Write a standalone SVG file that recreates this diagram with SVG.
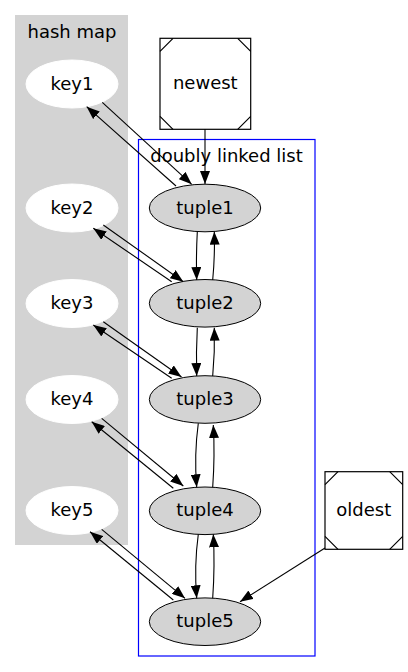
<svg xmlns="http://www.w3.org/2000/svg" width="408" height="672" viewBox="0 0 408 672">
<defs>
<marker id="ah" markerUnits="userSpaceOnUse" markerWidth="13" markerHeight="10" refX="13" refY="5" orient="auto">
<path d="M0,0 L13,5 L0,10 z" fill="#000"/>
</marker>
<style>
text{font-family:"DejaVu Sans",sans-serif;font-size:18px;text-anchor:middle;fill:#000}
.key{fill:#fff;stroke:#fff}
.tup{fill:#d3d3d3;stroke:#000;stroke-width:1}
.box{fill:#fff;stroke:#000;stroke-width:1.2}
.diag{stroke:#000;stroke-width:1.2;fill:none}
.e{fill:none;stroke:#000;stroke-width:1.1;marker-end:url(#ah)}
</style>
</defs>
<rect width="408" height="672" fill="#fff"/>
<g id="cluster_hashmap">
<rect x="15" y="15" width="113" height="530" fill="#d3d3d3"/>
<text x="72" y="38">hash map</text>
</g>
<g id="cluster_list">
<rect x="138.5" y="139.5" width="176.5" height="516.5" fill="none" stroke="#0000ff" stroke-width="1.2"/>
<text x="226.5" y="161.5">doubly linked list</text>
</g>
<g id="key1"><ellipse class="key" cx="72" cy="84" rx="46" ry="24"/><text x="72" y="89.5">key1</text></g>
<g id="key2"><ellipse class="key" cx="72" cy="208" rx="46" ry="24"/><text x="72" y="213.5">key2</text></g>
<g id="key3"><ellipse class="key" cx="72" cy="303.5" rx="46" ry="24"/><text x="72" y="309">key3</text></g>
<g id="key4"><ellipse class="key" cx="72" cy="399.5" rx="46" ry="24"/><text x="72" y="405">key4</text></g>
<g id="key5"><ellipse class="key" cx="72" cy="510.5" rx="46" ry="24"/><text x="72" y="516">key5</text></g>
<g id="tuple1"><ellipse class="tup" cx="205" cy="208" rx="55.7" ry="23.8"/><text x="205" y="213.5">tuple1</text></g>
<g id="tuple2"><ellipse class="tup" cx="205" cy="303.3" rx="55.7" ry="23.8"/><text x="205" y="308.8">tuple2</text></g>
<g id="tuple3"><ellipse class="tup" cx="205" cy="399.5" rx="55.7" ry="23.8"/><text x="205" y="405">tuple3</text></g>
<g id="tuple4"><ellipse class="tup" cx="205" cy="510.8" rx="55.7" ry="23.8"/><text x="205" y="516.3">tuple4</text></g>
<g id="tuple5"><ellipse class="tup" cx="205" cy="621.7" rx="55.7" ry="23.8"/><text x="205" y="627.2">tuple5</text></g>
<g id="newest">
<rect class="box" x="160" y="38.3" width="90.7" height="91"/>
<path class="diag" d="M160,51.3 L173,38.3 M237.7,38.3 L250.7,51.3 M160,116.3 L173,129.3 M237.7,129.3 L250.7,116.3"/>
<text x="205.3" y="89">newest</text>
</g>
<g id="oldest">
<rect class="box" x="325" y="471.7" width="77.7" height="77.6"/>
<path class="diag" d="M325,484.7 L338,471.7 M389.7,471.7 L402.7,484.7 M325,536.3 L338,549.3 M389.7,549.3 L402.7,536.3"/>
<text x="363.8" y="516">oldest</text>
</g>
<g id="connectors">
<path class="e" d="M205,129.3 L205,184"/>
<path class="e" d="M102.3,102.3 L191.7,184.3"/>
<path class="e" d="M176,186 L86.7,106.7"/>
<path class="e" d="M103.3,225 L183.3,281.7"/>
<path class="e" d="M171.7,281.7 L93.3,228.3"/>
<path class="e" d="M103.3,321.7 L181.5,377"/>
<path class="e" d="M171.7,378.3 L93.3,325"/>
<path class="e" d="M101.7,418.3 L183.3,486"/>
<path class="e" d="M173.3,488.3 L91.7,421.7"/>
<path class="e" d="M101.7,529.3 L185,598.3"/>
<path class="e" d="M173.3,600 L90,531.7"/>
<path class="e" d="M325,548 L240,601.7"/>
<path class="e" d="M197.3,231.7 Q196,256 196.7,280"/>
<path class="e" d="M212.7,280 Q215,256 214.3,231.7"/>
<path class="e" d="M197.3,327.7 Q196,352 196.7,376"/>
<path class="e" d="M212.7,376 Q215,352 214.3,327.7"/>
<path class="e" d="M198.3,423.3 Q194,455 196.7,487.3"/>
<path class="e" d="M212.7,487.3 Q215,455 213.3,425"/>
<path class="e" d="M198.3,534.3 Q194,566 196.7,598.3"/>
<path class="e" d="M212.7,598.3 Q215,566 213.3,534.3"/>
</g>
</svg>
